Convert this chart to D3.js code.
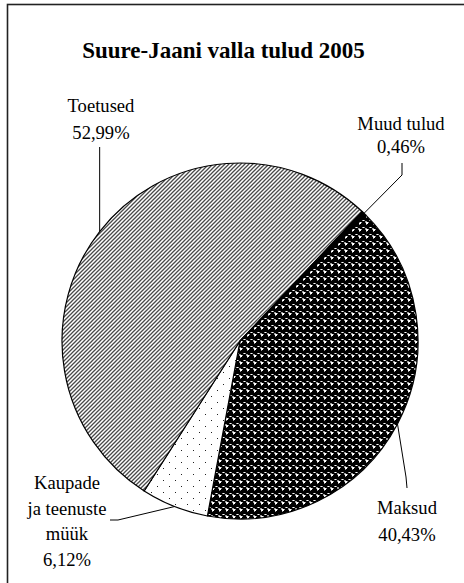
<!DOCTYPE html>
<html>
<head>
<meta charset="utf-8">
<script src="https://cdn.jsdelivr.net/npm/d3@7"></script>
<style>
  html, body { margin: 0; padding: 0; background: #fff; }
  svg { display: block; }
</style>
</head>
<body>
<svg id="chart" width="464" height="583"></svg>
<script>
// ---- data ----
const title = "Suure-Jaani valla tulud 2005";
const categories = ["Maksud", "Kaupade ja teenuste müük", "Toetused", "Muud tulud"];
const values = [40.43, 6.12, 52.99, 0.46];
const nameLines = [["Maksud"], ["Kaupade", "ja teenuste", "müük"], ["Toetused"], ["Muud tulud"]];

// ---- layout ----
const FONT = "'Liberation Serif', 'Times New Roman', Times, 'DejaVu Serif', serif";
const cx = 240, cy = 341, R = 178;
const startDeg = 45;
const patterns = ["pMaksud", "pKaupade", "pToetused", null];
const solidFill = [null, null, null, "#000"];
const labelLayout = [
  { x: 407, y: 514, dy: 27, leader: [[406, 477], [407, 488]] },
  { x: 67, y: 489, dy: 25.7, leader: [[118, 520], [110, 520]] },
  { x: 101, y: 112, dy: 26.5, leader: [["ax", 147]] },
  { x: 401, y: 130, dy: 23, leader: [[402, 175], [402, 163]] }
];

const svg = d3.select("#chart");
const defs = svg.append("defs");

// Toetused: dense upward diagonal stripes
const pT = defs.append("pattern").attr("id", "pToetused")
  .attr("patternUnits", "userSpaceOnUse").attr("width", 4).attr("height", 4);
pT.append("rect").attr("width", 4).attr("height", 4).attr("fill", "#fff");
pT.append("path").attr("d", "M-1,1 L1,-1 M0,4 L4,0 M3,5 L5,3")
  .attr("stroke", "#4a4a4a").attr("stroke-width", 1.3);

// Kaupade: sparse dots
const pK = defs.append("pattern").attr("id", "pKaupade")
  .attr("patternUnits", "userSpaceOnUse").attr("width", 12).attr("height", 12);
pK.append("rect").attr("width", 12).attr("height", 12).attr("fill", "#fff");
pK.append("rect").attr("x", 1).attr("y", 1).attr("width", 1).attr("height", 1).attr("fill", "#222");
pK.append("rect").attr("x", 7).attr("y", 7).attr("width", 1).attr("height", 1).attr("fill", "#222");

// Maksud: sphere-like pixel pattern (7x7)
const sphere = [
  "WWGBBBG",
  "WWBBBBB",
  "GBBBBBB",
  "BBBBBBB",
  "BBBBBBB",
  "BBBGWGB",
  "GBBBBBG"
];
const pixColor = { W: "#fff", G: "#999", B: "#000" };
const s = 7;
const pM = defs.append("pattern").attr("id", "pMaksud")
  .attr("patternUnits", "userSpaceOnUse").attr("width", s).attr("height", s);
sphere.forEach((row, y) => row.split("").forEach((c, x) => {
  pM.append("rect").attr("x", x).attr("y", y).attr("width", 1).attr("height", 1)
    .attr("fill", pixColor[c]).attr("shape-rendering", "crispEdges");
}));

// frame
svg.append("rect").attr("x", 7.5).attr("y", 4.5).attr("width", 480).attr("height", 600)
  .attr("fill", "none").attr("stroke", "#222").attr("stroke-width", 1.6);

// title
svg.append("text").attr("x", 223.5).attr("y", 58).attr("text-anchor", "middle")
  .attr("font-family", FONT)
  .attr("font-weight", "bold").attr("font-size", 23).text(title);

// pie
const rad = d => d * Math.PI / 180;
const pie = d3.pie().sort(null).value(d => d)
  .startAngle(rad(startDeg)).endAngle(rad(startDeg) + 2 * Math.PI);
const arcs = pie(values);
const arc = d3.arc().innerRadius(0).outerRadius(R);

const g = svg.append("g").attr("transform", `translate(${cx},${cy})`);
g.selectAll("path.slice").data(arcs).join("path")
  .attr("class", "slice")
  .attr("d", arc)
  .attr("fill", (d, i) => solidFill[i] || `url(#${patterns[i]})`)
  .attr("stroke", "#000").attr("stroke-width", 1.2).attr("stroke-linejoin", "round");

// labels + leaders
const fmt = v => d3.format(".2f")(v).replace(".", ",") + "%";
arcs.forEach((a, i) => {
  const L = labelLayout[i];
  const mid = (a.startAngle + a.endAngle) / 2;
  const ax = cx + R * Math.sin(mid), ay = cy - R * Math.cos(mid);
  const pts = [[ax, ay]].concat(L.leader.map(p => [p[0] === "ax" ? ax : p[0], p[1]]));
  svg.append("path").attr("d", d3.line()(pts))
    .attr("fill", "none").attr("stroke", "#000").attr("stroke-width", 1);
  const lines = nameLines[i].concat([fmt(values[i])]);
  const t = svg.append("text").attr("text-anchor", "middle")
    .attr("font-family", FONT).attr("font-size", 18.6);
  lines.forEach((ln, k) => {
    t.append("tspan").attr("x", L.x).attr("y", L.y + k * L.dy).text(ln);
  });
});
</script>
</body>
</html>
